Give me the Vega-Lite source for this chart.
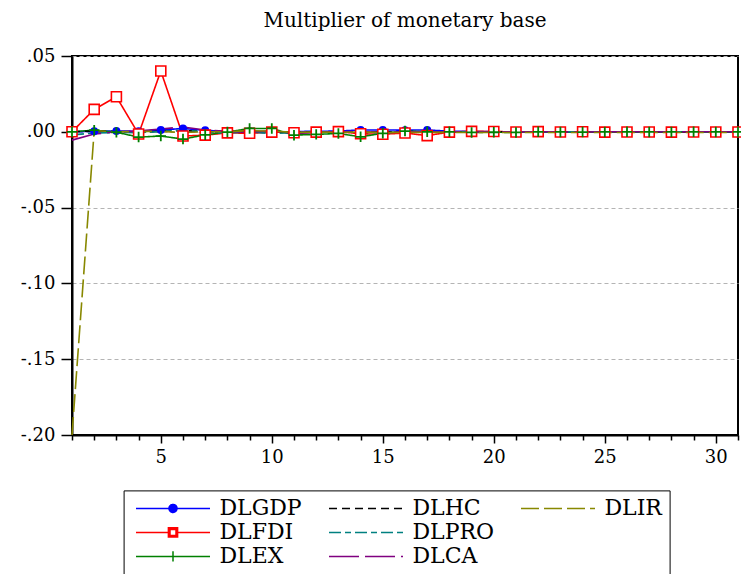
{
"$schema": "https://vega.github.io/schema/vega-lite/v6.json",
"width": 666, "height": 379,
"autosize": {"type": "none"},
"padding": {"left": 72, "top": 56, "right": 3, "bottom": 139},
"background": "white",
"title": {"text": "Multiplier of monetary base", "font": "DejaVu Serif", "fontSize": 20, "fontWeight": "normal", "color": "black", "anchor": "middle", "frame": "group", "offset": 16},
"config": {"view": {"stroke": "black", "strokeWidth": 2}},
"data": {"values": [
{"s":"DLGDP","x":1,"v":0},{"s":"DLGDP","x":2,"v":0.0003},{"s":"DLGDP","x":3,"v":0.0006},{"s":"DLGDP","x":4,"v":0.0003},{"s":"DLGDP","x":5,"v":0.0012},{"s":"DLGDP","x":6,"v":0.0022},{"s":"DLGDP","x":7,"v":0.001},{"s":"DLGDP","x":8,"v":0.0002},{"s":"DLGDP","x":9,"v":0.0004},{"s":"DLGDP","x":10,"v":-0.0004},{"s":"DLGDP","x":11,"v":0.0002},{"s":"DLGDP","x":12,"v":0.0003},{"s":"DLGDP","x":13,"v":0.0005},{"s":"DLGDP","x":14,"v":0.0012},{"s":"DLGDP","x":15,"v":0.0012},{"s":"DLGDP","x":16,"v":0.0011},{"s":"DLGDP","x":17,"v":0.0012},{"s":"DLGDP","x":18,"v":0.0004},{"s":"DLGDP","x":19,"v":0.0002},{"s":"DLGDP","x":20,"v":0.0001},{"s":"DLGDP","x":21,"v":0},{"s":"DLGDP","x":22,"v":0.0001},{"s":"DLGDP","x":23,"v":0},{"s":"DLGDP","x":24,"v":0},{"s":"DLGDP","x":25,"v":0.0001},{"s":"DLGDP","x":26,"v":0},{"s":"DLGDP","x":27,"v":0},{"s":"DLGDP","x":28,"v":0},{"s":"DLGDP","x":29,"v":0},{"s":"DLGDP","x":30,"v":0},{"s":"DLGDP","x":31,"v":0},
{"s":"DLFDI","x":1,"v":0},{"s":"DLFDI","x":2,"v":0.0148},{"s":"DLFDI","x":3,"v":0.0231},{"s":"DLFDI","x":4,"v":-0.0015},{"s":"DLFDI","x":5,"v":0.0401},{"s":"DLFDI","x":6,"v":-0.0028},{"s":"DLFDI","x":7,"v":-0.0022},{"s":"DLFDI","x":8,"v":-0.0007},{"s":"DLFDI","x":9,"v":-0.001},{"s":"DLFDI","x":10,"v":-0.0002},{"s":"DLFDI","x":11,"v":-0.0006},{"s":"DLFDI","x":12,"v":-0.0002},{"s":"DLFDI","x":13,"v":0.0001},{"s":"DLFDI","x":14,"v":-0.0013},{"s":"DLFDI","x":15,"v":-0.0016},{"s":"DLFDI","x":16,"v":-0.0008},{"s":"DLFDI","x":17,"v":-0.0025},{"s":"DLFDI","x":18,"v":-0.0002},{"s":"DLFDI","x":19,"v":0.0003},{"s":"DLFDI","x":20,"v":0.0002},{"s":"DLFDI","x":21,"v":-0.0001},{"s":"DLFDI","x":22,"v":0.0001},{"s":"DLFDI","x":23,"v":-0.0001},{"s":"DLFDI","x":24,"v":0},{"s":"DLFDI","x":25,"v":-0.0002},{"s":"DLFDI","x":26,"v":-0.0001},{"s":"DLFDI","x":27,"v":-0.0001},{"s":"DLFDI","x":28,"v":-0.0002},{"s":"DLFDI","x":29,"v":-0.0001},{"s":"DLFDI","x":30,"v":-0.0001},{"s":"DLFDI","x":31,"v":-0.0001},
{"s":"DLEX","x":1,"v":0},{"s":"DLEX","x":2,"v":0.0011},{"s":"DLEX","x":3,"v":-0.0003},{"s":"DLEX","x":4,"v":-0.0035},{"s":"DLEX","x":5,"v":-0.0028},{"s":"DLEX","x":6,"v":-0.0048},{"s":"DLEX","x":7,"v":-0.002},{"s":"DLEX","x":8,"v":-0.0002},{"s":"DLEX","x":9,"v":0.0022},{"s":"DLEX","x":10,"v":0.0022},{"s":"DLEX","x":11,"v":-0.0022},{"s":"DLEX","x":12,"v":-0.0017},{"s":"DLEX","x":13,"v":-0.0011},{"s":"DLEX","x":14,"v":-0.0033},{"s":"DLEX","x":15,"v":-0.001},{"s":"DLEX","x":16,"v":0.0005},{"s":"DLEX","x":17,"v":0},{"s":"DLEX","x":18,"v":0},{"s":"DLEX","x":19,"v":-0.0004},{"s":"DLEX","x":20,"v":-0.0003},{"s":"DLEX","x":21,"v":-0.0004},{"s":"DLEX","x":22,"v":0},{"s":"DLEX","x":23,"v":-0.0001},{"s":"DLEX","x":24,"v":-0.0002},{"s":"DLEX","x":25,"v":-0.0001},{"s":"DLEX","x":26,"v":0},{"s":"DLEX","x":27,"v":-0.0001},{"s":"DLEX","x":28,"v":-0.0001},{"s":"DLEX","x":29,"v":0},{"s":"DLEX","x":30,"v":-0.0001},{"s":"DLEX","x":31,"v":-0.0001},
{"s":"DLHC","x":1,"v":0},{"s":"DLHC","x":2,"v":0.0006},{"s":"DLHC","x":3,"v":0.0002},{"s":"DLHC","x":4,"v":-0.0004},{"s":"DLHC","x":5,"v":0.0004},{"s":"DLHC","x":6,"v":0.0008},{"s":"DLHC","x":7,"v":0.0002},{"s":"DLHC","x":8,"v":-0.0002},{"s":"DLHC","x":9,"v":0.0003},{"s":"DLHC","x":10,"v":-0.0002},{"s":"DLHC","x":11,"v":-0.0003},{"s":"DLHC","x":12,"v":0},{"s":"DLHC","x":13,"v":0.0001},{"s":"DLHC","x":14,"v":-0.0002},{"s":"DLHC","x":15,"v":0},{"s":"DLHC","x":16,"v":0.0001},{"s":"DLHC","x":17,"v":0},{"s":"DLHC","x":18,"v":0},{"s":"DLHC","x":19,"v":0},{"s":"DLHC","x":20,"v":0},{"s":"DLHC","x":21,"v":0},{"s":"DLHC","x":22,"v":0},{"s":"DLHC","x":23,"v":0},{"s":"DLHC","x":24,"v":0},{"s":"DLHC","x":25,"v":0},{"s":"DLHC","x":26,"v":0},{"s":"DLHC","x":27,"v":0},{"s":"DLHC","x":28,"v":0},{"s":"DLHC","x":29,"v":0},{"s":"DLHC","x":30,"v":0},{"s":"DLHC","x":31,"v":0},
{"s":"DLPRO","x":1,"v":-0.002},{"s":"DLPRO","x":2,"v":-0.0008},{"s":"DLPRO","x":3,"v":-0.0004},{"s":"DLPRO","x":4,"v":-0.0006},{"s":"DLPRO","x":5,"v":0.0002},{"s":"DLPRO","x":6,"v":0.0012},{"s":"DLPRO","x":7,"v":-0.0002},{"s":"DLPRO","x":8,"v":-0.0008},{"s":"DLPRO","x":9,"v":0},{"s":"DLPRO","x":10,"v":-0.0012},{"s":"DLPRO","x":11,"v":-0.0006},{"s":"DLPRO","x":12,"v":-0.0003},{"s":"DLPRO","x":13,"v":0},{"s":"DLPRO","x":14,"v":-0.0004},{"s":"DLPRO","x":15,"v":-0.0006},{"s":"DLPRO","x":16,"v":0},{"s":"DLPRO","x":17,"v":0.0001},{"s":"DLPRO","x":18,"v":-0.0001},{"s":"DLPRO","x":19,"v":0},{"s":"DLPRO","x":20,"v":-0.0001},{"s":"DLPRO","x":21,"v":0},{"s":"DLPRO","x":22,"v":0},{"s":"DLPRO","x":23,"v":-0.0001},{"s":"DLPRO","x":24,"v":0},{"s":"DLPRO","x":25,"v":0},{"s":"DLPRO","x":26,"v":0},{"s":"DLPRO","x":27,"v":0},{"s":"DLPRO","x":28,"v":0},{"s":"DLPRO","x":29,"v":0},{"s":"DLPRO","x":30,"v":0},{"s":"DLPRO","x":31,"v":0},
{"s":"DLCA","x":1,"v":-0.0055},{"s":"DLCA","x":2,"v":-0.0015},{"s":"DLCA","x":3,"v":0},{"s":"DLCA","x":4,"v":0.0005},{"s":"DLCA","x":5,"v":0.0018},{"s":"DLCA","x":6,"v":0.0032},{"s":"DLCA","x":7,"v":0.0012},{"s":"DLCA","x":8,"v":0.0003},{"s":"DLCA","x":9,"v":-0.0004},{"s":"DLCA","x":10,"v":0.0008},{"s":"DLCA","x":11,"v":-0.0012},{"s":"DLCA","x":12,"v":-0.0005},{"s":"DLCA","x":13,"v":0.0001},{"s":"DLCA","x":14,"v":0.0001},{"s":"DLCA","x":15,"v":-0.0005},{"s":"DLCA","x":16,"v":0.0001},{"s":"DLCA","x":17,"v":-0.0002},{"s":"DLCA","x":18,"v":0},{"s":"DLCA","x":19,"v":-0.0001},{"s":"DLCA","x":20,"v":0},{"s":"DLCA","x":21,"v":-0.0001},{"s":"DLCA","x":22,"v":0},{"s":"DLCA","x":23,"v":0},{"s":"DLCA","x":24,"v":-0.0001},{"s":"DLCA","x":25,"v":0},{"s":"DLCA","x":26,"v":0},{"s":"DLCA","x":27,"v":0},{"s":"DLCA","x":28,"v":-0.0001},{"s":"DLCA","x":29,"v":0},{"s":"DLCA","x":30,"v":0},{"s":"DLCA","x":31,"v":0},
{"s":"DLIR","x":1,"v":-0.2},{"s":"DLIR","x":2,"v":0.0008},{"s":"DLIR","x":3,"v":0},{"s":"DLIR","x":4,"v":0.0002},{"s":"DLIR","x":5,"v":0.0003},{"s":"DLIR","x":6,"v":-0.0005},{"s":"DLIR","x":7,"v":0.0001},{"s":"DLIR","x":8,"v":0},{"s":"DLIR","x":9,"v":0.0008},{"s":"DLIR","x":10,"v":0.0005},{"s":"DLIR","x":11,"v":-0.0004},{"s":"DLIR","x":12,"v":-0.0002},{"s":"DLIR","x":13,"v":-0.0003},{"s":"DLIR","x":14,"v":-0.0002},{"s":"DLIR","x":15,"v":-0.0005},{"s":"DLIR","x":16,"v":-0.0004},{"s":"DLIR","x":17,"v":-0.0004},{"s":"DLIR","x":18,"v":-0.0004},{"s":"DLIR","x":19,"v":-0.0005},{"s":"DLIR","x":20,"v":-0.0005},{"s":"DLIR","x":21,"v":-0.0005},{"s":"DLIR","x":22,"v":-0.0005},{"s":"DLIR","x":23,"v":-0.0005},{"s":"DLIR","x":24,"v":-0.0005},{"s":"DLIR","x":25,"v":-0.0005},{"s":"DLIR","x":26,"v":-0.0005},{"s":"DLIR","x":27,"v":-0.0005},{"s":"DLIR","x":28,"v":-0.0005},{"s":"DLIR","x":29,"v":-0.0005},{"s":"DLIR","x":30,"v":-0.0005},{"s":"DLIR","x":31,"v":-0.0005}
]},
"encoding": {
  "x": {"field": "x", "type": "quantitative", "scale": {"domain": [1, 31], "nice": false, "zero": false},
    "axis": {"title": null, "values": [1,2,3,4,5,6,7,8,9,10,11,12,13,14,15,16,17,18,19,20,21,22,23,24,25,26,27,28,29,30,31],
      "labelExpr": "datum.value % 5 === 0 ? datum.label : ''", "grid": false, "domainColor": "black", "domainWidth": 2,
      "tickColor": "black", "tickWidth": 1.5, "tickSize": {"condition": {"test": "datum.value % 5 === 0", "value": 8}, "value": 5},
      "labelFont": "DejaVu Serif", "labelFontSize": 18, "labelColor": "black", "labelPadding": 5, "labelFlush": false, "labelOverlap": false}},
  "y": {"field": "v", "type": "quantitative", "scale": {"domain": [-0.2, 0.05], "nice": false, "zero": false},
    "axis": {"title": null, "values": [-0.2, -0.15, -0.1, -0.05, 0, 0.05],
      "labelExpr": "replace(replace(format(datum.value, '.2f'), '0.', '.'), '\u2212', '-')", "grid": true, "gridDash": [4, 3], "gridColor": "#b4b4b4", "gridWidth": 1,
      "domainColor": "black", "domainWidth": 2, "tickColor": "black", "tickWidth": 1.5, "tickSize": 11,
      "labelFont": "DejaVu Serif", "labelFontSize": 18, "labelColor": "black", "labelPadding": 6, "labelFlush": false, "labelOverlap": false}}
},
"layer": [
  {"transform": [{"filter": "datum.x < 0"}],
   "mark": {"type": "point", "filled": true, "opacity": 1},
   "encoding": {
     "color": {"field": "s", "type": "nominal",
       "scale": {"domain": ["DLGDP","DLHC","DLIR","DLFDI","DLPRO"," ","DLEX","DLCA"], "range": ["#0000ff","#000000","#888800","#ff0000","#008080","#ffffff","#008000","#800080"]},
       "legend": {"title": null, "orient": "none", "direction": "horizontal", "legendX": 51.6, "legendY": 434.4, "columns": 3, "gridAlign": "each", "columnPadding": 21, "rowPadding": 2, "padding": 7, "strokeColor": "black", "fillColor": "white", "symbolSize": 64, "symbolStrokeWidth": 1.5, "symbolOffset": 31.4, "labelOffset": 35.4, "labelFont": "DejaVu Serif", "labelFontSize": 22, "labelColor": "black", "labelLimit": 0}},
     "stroke": {"field": "s", "type": "nominal",
       "scale": {"domain": ["DLGDP","DLHC","DLIR","DLFDI","DLPRO"," ","DLEX","DLCA"], "range": ["#0000ff","#000000","#888800","#ff0000","#008080","#ffffff","#008000","#800080"]},
       "legend": {"title": null, "orient": "none", "direction": "horizontal", "legendX": 51.6, "legendY": 434.4, "columns": 3, "gridAlign": "each", "columnPadding": 21, "rowPadding": 2, "padding": 7, "strokeColor": "black", "fillColor": "white", "symbolSize": 64, "symbolStrokeWidth": 1.5, "symbolOffset": 31.4, "labelOffset": 35.4, "labelFont": "DejaVu Serif", "labelFontSize": 22, "labelColor": "black", "labelLimit": 0}},
     "shape": {"field": "s", "type": "nominal",
       "scale": {"domain": ["DLGDP","DLHC","DLIR","DLFDI","DLPRO"," ","DLEX","DLCA"], "range": ["M-9.25,0H9.25M-1,0A1,1,0,1,0,1,0A1,1,0,1,0,-1,0Z","M-9.25,0H9.25","M-9.25,0H9.25","M-9.25,0H-1.15M1.15,0H9.25M-1.15,-1.15H1.15V1.15H-1.15ZM-0.75,-0.75V0.75H0.75V-0.75Z","M-9.25,0H9.25","M0,0","M-9.25,0H9.25M0,-1.3V1.3","M-9.25,0H9.25"]},
       "legend": {"title": null, "orient": "none", "direction": "horizontal", "legendX": 51.6, "legendY": 434.4, "columns": 3, "gridAlign": "each", "columnPadding": 21, "rowPadding": 2, "padding": 7, "strokeColor": "black", "fillColor": "white", "symbolSize": 64, "symbolStrokeWidth": 1.5, "symbolOffset": 31.4, "labelOffset": 35.4, "labelFont": "DejaVu Serif", "labelFontSize": 22, "labelColor": "black", "labelLimit": 0}},
     "strokeDash": {"field": "s", "type": "nominal",
       "scale": {"domain": ["DLGDP","DLHC","DLIR","DLFDI","DLPRO"," ","DLEX","DLCA"], "range": [[1,0],[8,5],[18,5],[1,0],[12,4,6,4],[1,0],[1,0],[30,6]]},
       "legend": {"title": null, "orient": "none", "direction": "horizontal", "legendX": 51.6, "legendY": 434.4, "columns": 3, "gridAlign": "each", "columnPadding": 21, "rowPadding": 2, "padding": 7, "strokeColor": "black", "fillColor": "white", "symbolSize": 64, "symbolStrokeWidth": 1.5, "symbolOffset": 31.4, "labelOffset": 35.4, "labelFont": "DejaVu Serif", "labelFontSize": 22, "labelColor": "black", "labelLimit": 0}}
   }},
  {"mark": {"type": "line", "strokeWidth": 1.6},
   "encoding": {
     "color": {"field": "s", "type": "nominal",
       "scale": {"domain": ["DLGDP","DLHC","DLIR","DLFDI","DLPRO"," ","DLEX","DLCA"], "range": ["#0000ff","#000000","#888800","#ff0000","#008080","#ffffff","#008000","#800080"]}},
     "strokeDash": {"field": "s", "type": "nominal",
       "scale": {"domain": ["DLGDP","DLHC","DLIR","DLFDI","DLPRO"," ","DLEX","DLCA"], "range": [[1,0],[8,5],[18,5],[1,0],[12,4,6,4],[1,0],[1,0],[30,6]]}}
   }},
  {"transform": [{"filter": "datum.s === 'DLGDP'"}],
   "mark": {"type": "point", "shape": "circle", "filled": true, "color": "#0000ff", "size": 64, "opacity": 1}},
  {"transform": [{"filter": "datum.s === 'DLFDI'"}],
   "mark": {"type": "point", "shape": "square", "filled": true, "fill": "white", "stroke": "#ff0000", "strokeWidth": 1.6, "size": 100, "opacity": 1}},
  {"transform": [{"filter": "datum.s === 'DLEX'"}],
   "mark": {"type": "point", "shape": "M-1,0H1M0,-1V1", "filled": false, "stroke": "#008000", "strokeWidth": 1.8, "size": 110, "opacity": 1}}
]
}
